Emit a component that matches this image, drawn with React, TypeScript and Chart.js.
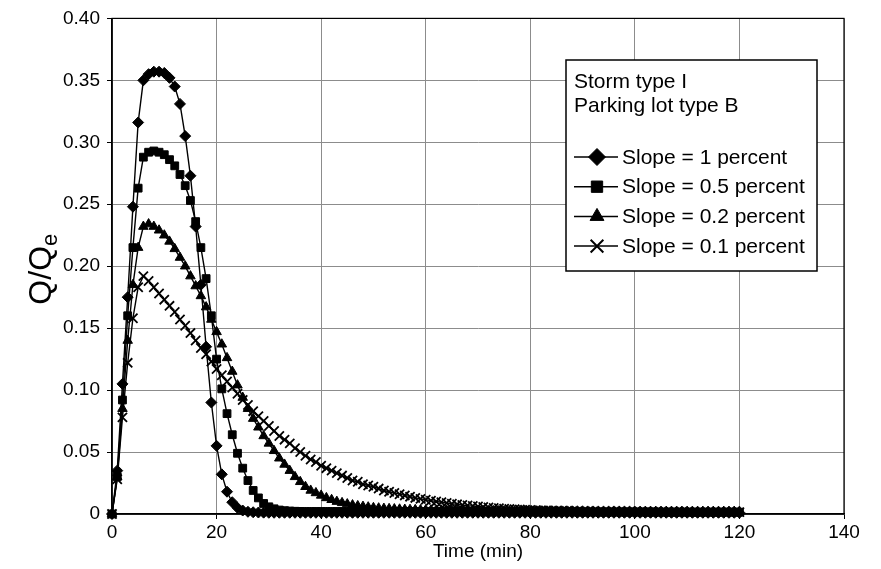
import React, { useEffect, useRef } from "react";
import { Chart, registerables } from "chart.js";
import { drawPoint } from "chart.js/helpers";

Chart.register(...registerables);

// Time axis, one sample per minute
const TIME = [
  0, 1, 2, 3, 4, 5, 6, 7, 8, 9,
  10, 11, 12, 13, 14, 15, 16, 17, 18, 19,
  20, 21, 22, 23, 24, 25, 26, 27, 28, 29,
  30, 31, 32, 33, 34, 35, 36, 37, 38, 39,
  40, 41, 42, 43, 44, 45, 46, 47, 48, 49,
  50, 51, 52, 53, 54, 55, 56, 57, 58, 59,
  60, 61, 62, 63, 64, 65, 66, 67, 68, 69,
  70, 71, 72, 73, 74, 75, 76, 77, 78, 79,
  80, 81, 82, 83, 84, 85, 86, 87, 88, 89,
  90, 91, 92, 93, 94, 95, 96, 97, 98, 99,
  100, 101, 102, 103, 104, 105, 106, 107, 108, 109,
  110, 111, 112, 113, 114, 115, 116, 117, 118, 119,
  120,
];

// Q/Qe for slope = 1 percent
const SLOPE_1 = [
  0, 0.035, 0.105, 0.175, 0.248, 0.316, 0.35, 0.355, 0.357, 0.357,
  0.356, 0.352, 0.345, 0.331, 0.305, 0.273, 0.232, 0.185, 0.135, 0.09,
  0.055, 0.032, 0.018, 0.0095, 0.005, 0.0028, 0.0018, 0.0014, 0.0012, 0.0011,
  0.001, 0.001, 0.001, 0.001, 0.001, 0.001, 0.001, 0.001, 0.001, 0.001,
  0.001, 0.001, 0.001, 0.001, 0.001, 0.001, 0.001, 0.001, 0.001, 0.001,
  0.001, 0.001, 0.001, 0.001, 0.001, 0.001, 0.001, 0.001, 0.001, 0.001,
  0.001, 0.001, 0.001, 0.001, 0.001, 0.001, 0.001, 0.001, 0.001, 0.001,
  0.001, 0.001, 0.001, 0.001, 0.001, 0.001, 0.001, 0.001, 0.001, 0.001,
  0.001, 0.001, 0.001, 0.001, 0.001, 0.001, 0.001, 0.001, 0.001, 0.001,
  0.001, 0.001, 0.001, 0.001, 0.001, 0.001, 0.001, 0.001, 0.001, 0.001,
  0.001, 0.001, 0.001, 0.001, 0.001, 0.001, 0.001, 0.001, 0.001, 0.001,
  0.001, 0.001, 0.001, 0.001, 0.001, 0.001, 0.001, 0.001, 0.001, 0.001,
  0.001,
];

// Q/Qe for slope = 0.5 percent
const SLOPE_05 = [
  0, 0.03, 0.092, 0.16, 0.215, 0.263, 0.288, 0.292, 0.293, 0.292,
  0.29, 0.286, 0.281, 0.274, 0.265, 0.253, 0.236, 0.215, 0.19, 0.16,
  0.125, 0.101, 0.081, 0.064, 0.049, 0.037, 0.027, 0.019, 0.013, 0.0085,
  0.0058, 0.0042, 0.0032, 0.0027, 0.0024, 0.0022, 0.0021, 0.002, 0.002, 0.002,
  0.002, 0.002, 0.002, 0.002, 0.002, 0.002, 0.002, 0.002, 0.002, 0.002,
  0.002, 0.002, 0.002, 0.002, 0.002, 0.002, 0.002, 0.002, 0.002, 0.002,
  0.0019, 0.0019, 0.0019, 0.0019, 0.0019, 0.0019, 0.0019, 0.0019, 0.0019, 0.0019,
  0.0018, 0.0018, 0.0018, 0.0018, 0.0018, 0.0018, 0.0018, 0.0018, 0.0018, 0.0018,
  0.0017, 0.0017, 0.0017, 0.0017, 0.0017, 0.0017, 0.0017, 0.0017, 0.0017, 0.0017,
  0.0016, 0.0016, 0.0016, 0.0016, 0.0016, 0.0016, 0.0016, 0.0016, 0.0016, 0.0016,
  0.0016, 0.0016, 0.0016, 0.0016, 0.0016, 0.0015, 0.0015, 0.0015, 0.0015, 0.0015,
  0.0015, 0.0015, 0.0015, 0.0015, 0.0015, 0.0015, 0.0015, 0.0015, 0.0015, 0.0015,
  0.0015,
];

// Q/Qe for slope = 0.2 percent
const SLOPE_02 = [
  0, 0.03, 0.085, 0.14, 0.185, 0.215, 0.232, 0.234, 0.232, 0.229,
  0.225, 0.22, 0.214, 0.207, 0.2, 0.192, 0.184, 0.176, 0.167, 0.157,
  0.147, 0.137, 0.126, 0.115, 0.104, 0.094, 0.085, 0.077, 0.07, 0.063,
  0.057, 0.051, 0.045, 0.04, 0.035, 0.03, 0.026, 0.022, 0.019, 0.017,
  0.015, 0.013, 0.0115, 0.01, 0.009, 0.008, 0.0072, 0.0065, 0.006, 0.0055,
  0.005, 0.0047, 0.0044, 0.0042, 0.004, 0.0038, 0.0036, 0.0035, 0.0034, 0.0033,
  0.0032, 0.0031, 0.003, 0.003, 0.0029, 0.0028, 0.0028, 0.0027, 0.0027, 0.0026,
  0.0026, 0.0025, 0.0025, 0.0025, 0.0025, 0.0024, 0.0024, 0.0024, 0.0024, 0.0024,
  0.0023, 0.0023, 0.0023, 0.0023, 0.0023, 0.0022, 0.0022, 0.0022, 0.0022, 0.0022,
  0.0022, 0.0021, 0.0021, 0.0021, 0.0021, 0.0021, 0.0021, 0.0021, 0.0021, 0.0021,
  0.002, 0.002, 0.002, 0.002, 0.002, 0.002, 0.002, 0.002, 0.002, 0.002,
  0.002, 0.002, 0.002, 0.002, 0.002, 0.002, 0.002, 0.002, 0.002, 0.002,
  0.002,
];

// Q/Qe for slope = 0.1 percent
const SLOPE_01 = [
  0, 0.028, 0.078, 0.122, 0.158, 0.183, 0.192, 0.188, 0.183, 0.178,
  0.173, 0.168, 0.163, 0.157, 0.152, 0.146, 0.14, 0.134, 0.129, 0.123,
  0.117, 0.112, 0.107, 0.102, 0.097, 0.092, 0.088, 0.083, 0.079, 0.075,
  0.071, 0.067, 0.063, 0.06, 0.057, 0.053, 0.05, 0.047, 0.044, 0.042,
  0.039, 0.037, 0.035, 0.033, 0.031, 0.029, 0.027, 0.026, 0.024, 0.023,
  0.022, 0.0205, 0.019, 0.018, 0.017, 0.016, 0.015, 0.014, 0.013, 0.0122,
  0.0115, 0.0108, 0.0101, 0.0095, 0.0089, 0.0083, 0.0078, 0.0073, 0.0068, 0.0064,
  0.006, 0.0056, 0.0052, 0.0049, 0.0046, 0.0043, 0.004, 0.0038, 0.0036, 0.0034,
  0.0032, 0.003, 0.0029, 0.0028, 0.0027, 0.0026, 0.0025, 0.0024, 0.0023, 0.0022,
  0.0021, 0.002, 0.002, 0.0019, 0.0019, 0.0019, 0.0018, 0.0018, 0.0018, 0.0018,
  0.0017, 0.0017, 0.0017, 0.0017, 0.0017, 0.0016, 0.0016, 0.0016, 0.0016, 0.0016,
  0.0016, 0.0015, 0.0015, 0.0015, 0.0015, 0.0015, 0.0015, 0.0015, 0.0015, 0.0015,
  0.0015,
];

const SERIES_LABELS = [
  "Slope = 1 percent",
  "Slope = 0.5 percent",
  "Slope = 0.2 percent",
  "Slope = 0.1 percent",
];
const LEGEND_HEADER = ["Storm type I", "Parking lot type B"];
const X_TITLE = "Time (min)";
const Y_TITLE_MAIN = "Q/Q";
const Y_TITLE_SUB = "e";

const FONT = '"Liberation Sans", Arial, Helvetica, sans-serif';

// marker look per series: [pointStyle, plot radius, legend radius]
const MARKERS: [string, number, number][] = [
  ["rectRot", 5.5, 8.5],
  ["rect", 5.5, 8],
  ["triangle", 5.5, 8],
  ["crossRot", 6.5, 9],
];

const frameAndLabels = {
  id: "frameAndLabels",
  beforeDatasetsDraw(chart: any) {
    const { ctx, chartArea: a } = chart;
    ctx.save();
    ctx.strokeStyle = "#000";
    ctx.lineWidth = 1.2;
    ctx.strokeRect(a.left, a.top, a.right - a.left, a.bottom - a.top);
    ctx.restore();
  },
  afterDraw(chart: any) {
    const { ctx, chartArea: a } = chart;
    // rotated y-axis title with subscript
    ctx.save();
    ctx.fillStyle = "#000";
    ctx.translate(39, (a.top + a.bottom) / 2 + 3);
    ctx.rotate(-Math.PI / 2);
    ctx.font = `32px ${FONT}`;
    const wMain = ctx.measureText(Y_TITLE_MAIN).width;
    ctx.font = `22px ${FONT}`;
    const wSub = ctx.measureText(Y_TITLE_SUB).width;
    const start = -(wMain + wSub) / 2;
    ctx.textBaseline = "alphabetic";
    ctx.textAlign = "left";
    ctx.font = `32px ${FONT}`;
    ctx.fillText(Y_TITLE_MAIN, start, 11.5);
    ctx.font = `22px ${FONT}`;
    ctx.fillText(Y_TITLE_SUB, start + wMain, 18);
    ctx.restore();

    // legend box inside the plot
    const bx = 566, by = 60, bw = 251, bh = 211;
    ctx.save();
    ctx.fillStyle = "#fff";
    ctx.fillRect(bx, by, bw, bh);
    ctx.strokeStyle = "#000";
    ctx.lineWidth = 1.5;
    ctx.strokeRect(bx, by, bw, bh);
    ctx.fillStyle = "#000";
    ctx.font = `21px ${FONT}`;
    ctx.textBaseline = "middle";
    ctx.textAlign = "left";
    LEGEND_HEADER.forEach((t, i) => ctx.fillText(t, bx + 8, by + 22 + i * 24));
    SERIES_LABELS.forEach((t, i) => {
      const y = by + 97 + i * 29.7;
      ctx.strokeStyle = "#000";
      ctx.lineWidth = 1.5;
      ctx.beginPath();
      ctx.moveTo(bx + 8, y);
      ctx.lineTo(bx + 52, y);
      ctx.stroke();
      const [style, , lr] = MARKERS[i];
      ctx.fillStyle = "#000";
      ctx.lineWidth = style === "crossRot" ? 2 : 1;
      drawPoint(ctx, { pointStyle: style, radius: lr, rotation: 0, borderWidth: ctx.lineWidth } as any, bx + 31, y);
      ctx.fillStyle = "#000";
      ctx.fillText(t, bx + 56, y + 1);
    });
    ctx.restore();
  },
};

export default function App() {
  const canvasRef = useRef<HTMLCanvasElement | null>(null);

  useEffect(() => {
    const canvas = canvasRef.current;
    if (!canvas) return;
    const seriesValues = [SLOPE_1, SLOPE_05, SLOPE_02, SLOPE_01];
    const datasets = seriesValues.map((vals, i) => ({
      label: SERIES_LABELS[i],
      data: TIME.map((t, j) => ({ x: t, y: vals[j] })),
      borderColor: "#000",
      backgroundColor: "#000",
      borderWidth: 1.4,
      pointStyle: MARKERS[i][0],
      pointRadius: MARKERS[i][1],
      pointBorderWidth: MARKERS[i][0] === "crossRot" ? 1.8 : 1,
      pointBorderColor: "#000",
      pointBackgroundColor: "#000",
      tension: 0,
      clip: false as any,
    }));

    const chart = new Chart(canvas, {
      type: "line",
      data: { datasets: datasets as any },
      options: {
        animation: false,
        responsive: true,
        maintainAspectRatio: false,
        layout: { padding: { top: 17, right: 37, left: 0, bottom: 0 } },
        plugins: { legend: { display: false }, tooltip: { enabled: false } },
        scales: {
          x: {
            type: "linear",
            min: 0,
            max: 140,
            afterFit: (s: any) => { s.height = 55; },
            ticks: {
              stepSize: 20,
              color: "#000",
              font: { family: FONT, size: 19 },
              padding: 2,
              maxRotation: 0,
            },
            grid: { color: "#8c8c8c", lineWidth: 1, tickLength: 5, tickColor: "#000" },
            border: { color: "#000", width: 1.5 },
            title: {
              display: true,
              text: X_TITLE,
              color: "#000",
              font: { family: FONT, size: 19 },
              padding: { top: 0, bottom: 6 },
            },
          },
          y: {
            type: "linear",
            min: 0,
            max: 0.4,
            afterFit: (s: any) => { s.width = 112; },
            ticks: {
              stepSize: 0.05,
              color: "#000",
              font: { family: FONT, size: 19 },
              padding: 7,
              callback: (v: any) => (Math.abs(v) < 1e-9 ? "0" : Number(v).toFixed(2)),
            },
            grid: { color: "#8c8c8c", lineWidth: 1, tickLength: 5, tickColor: "#000" },
            border: { color: "#000", width: 1.5 },
          },
        },
      },
      plugins: [frameAndLabels],
    });
    return () => chart.destroy();
  }, []);

  return (
    <div style={{ position: "fixed", left: 0, top: 0, width: 881, height: 569, background: "#fff" }}>
      <canvas ref={canvasRef} />
    </div>
  );
}
